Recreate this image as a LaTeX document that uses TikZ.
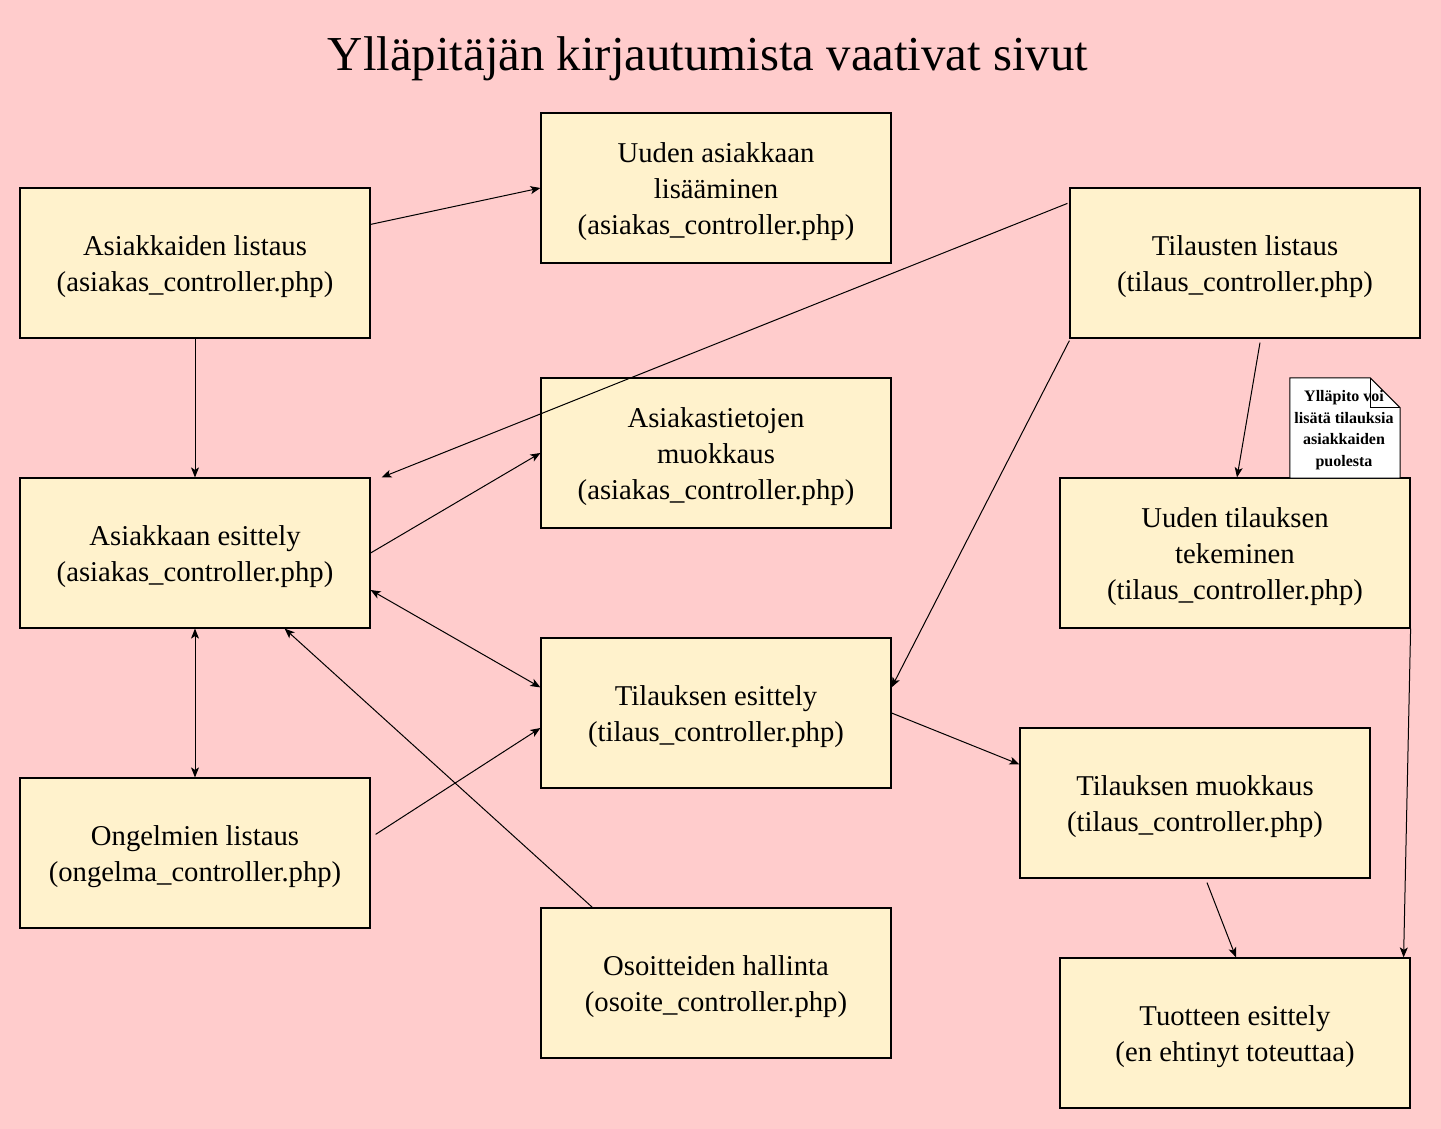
\documentclass[tikz,border=0pt]{standalone}
\usepackage{fontspec}
\setmainfont{Liberation Serif}
\usetikzlibrary{arrows.meta,calc}
\definecolor{bgpink}{HTML}{FFCCCC}
\definecolor{boxcream}{HTML}{FFF2CC}
\begin{document}
\begin{tikzpicture}[x=1pt,y=-1pt,
  pagebox/.style={draw=black,line width=1.2pt,fill=boxcream,minimum width=350pt,minimum height=150pt,inner sep=0pt},
  boxtext/.style={align=center,inner sep=0pt,font=\fontsize{28.7}{36}\selectfont,yshift=-4pt},
  conn/.style={line width=1pt,-{Stealth[length=10pt,width=8pt,inset=2.5pt]}},
  biconn/.style={line width=1pt,{Stealth[length=10pt,width=8pt,inset=2.5pt]}-{Stealth[length=10pt,width=8pt,inset=2.5pt]}}]
\fill[bgpink] (0,0) rectangle (1441,1129);
\useasboundingbox (0,0) rectangle (1441,1129);
\node[font=\fontsize{48.8}{56}\selectfont] (title) at (708,59) {Ylläpitäjän kirjautumista vaativat sivut};
\node[pagebox,label={[boxtext]center:Asiakkaiden listaus\\(asiakas\_controller.php)}] (A) at (195,263) {};
\node[pagebox,label={[boxtext]center:Uuden asiakkaan\\lisääminen\\(asiakas\_controller.php)}] (B) at (716,188) {};
\node[pagebox,label={[boxtext]center:Tilausten listaus\\(tilaus\_controller.php)}] (C) at (1245,263) {};
\node[pagebox,label={[boxtext]center:Asiakastietojen\\muokkaus\\(asiakas\_controller.php)}] (D) at (716,453) {};
\node[pagebox,label={[boxtext]center:Asiakkaan esittely\\(asiakas\_controller.php)}] (E) at (195,553) {};
\node[pagebox,label={[boxtext]center:Uuden tilauksen\\tekeminen\\(tilaus\_controller.php)}] (F) at (1235,553) {};
\node[pagebox,label={[boxtext]center:Tilauksen esittely\\(tilaus\_controller.php)}] (G) at (716,713) {};
\node[pagebox,label={[boxtext]center:Ongelmien listaus\\(ongelma\_controller.php)}] (H) at (195,853) {};
\node[pagebox,label={[boxtext]center:Tilauksen muokkaus\\(tilaus\_controller.php)}] (I) at (1195,803) {};
\node[pagebox,label={[boxtext]center:Osoitteiden hallinta\\(osoite\_controller.php)}] (J) at (716,983) {};
\node[pagebox,label={[boxtext]center:Tuotteen esittely\\(en ehtinyt toteuttaa)}] (K) at (1235,1033) {};
% note
\node[minimum width=110pt,minimum height=100pt,inner sep=0pt] (note) at (1345,428) {};
\draw[fill=white,line width=1pt] (note.north west) -- ($(note.north east)+(-30,0)$) -- ($(note.north east)+(0,30)$) -- (note.south east) -- (note.south west) -- cycle;
\draw[line width=1pt] ($(note.north east)+(-30,0)$) -- ($(note.north east)+(-30,30)$) -- ($(note.north east)+(0,30)$);
\node[align=center,font=\bfseries\fontsize{16}{21.5}\selectfont] (notetext) at (1344,430) {Ylläpito voi\\lisätä tilauksia\\asiakkaiden\\puolesta};
% connectors
\draw[conn] ($(A.north east)+(0,37)$) -- (B.west);
\draw[conn] (A.south) -- (E.north);
\draw[conn] ($(C.north west)+(-2,16)$) -- ($(E.north east)+(11,0)$);
\draw[conn] (E.east) -- (D.west);
\draw[biconn] ($(E.east)+(0,37)$) -- ($(G.north west)+(0,50)$);
\draw[biconn] (E.south) -- (H.north);
\draw[conn] ($(J.north west)+(52,0)$) -- ($(E.south east)+(-86,0)$);
\draw[conn] ($(H.north east)+(5,57)$) -- ($(G.west)+(0,15)$);
\draw[conn] ($(C.south west)+(0,2)$) -- ($(G.north east)+(0,50)$);
\draw[conn] ($(C.south)+(15,4)$) -- ($(F.north)+(2,0)$);
\draw[conn] (G.east) -- ($(I.north west)+(0,37)$);
\draw[conn] ($(I.south)+(12,4)$) -- ($(K.north)+(1,0)$);
\draw[conn] (F.south east) -- ($(K.north east)+(-7,0)$);
\end{tikzpicture}
\end{document}
